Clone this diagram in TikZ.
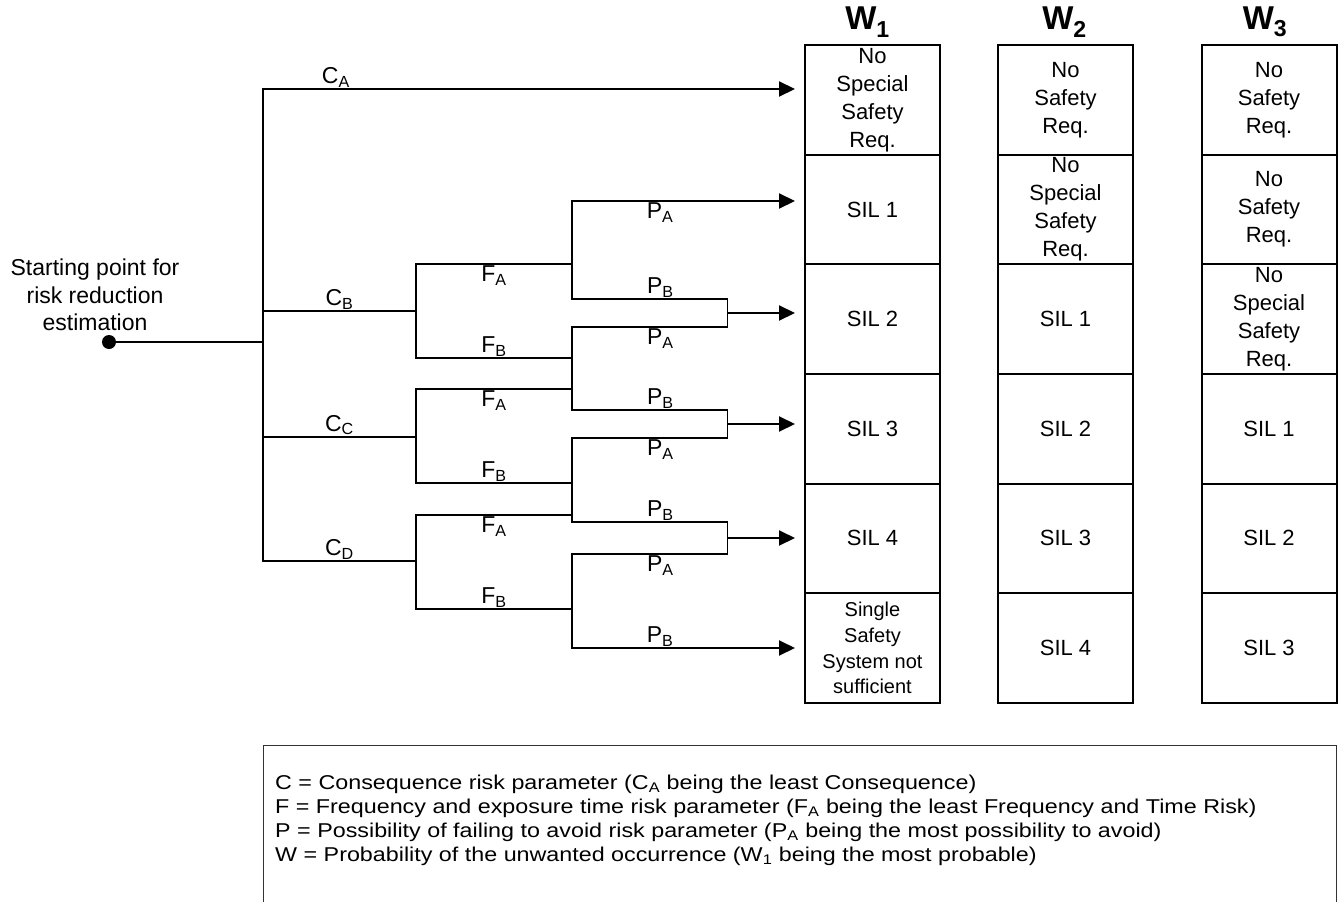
\documentclass[tikz,border=0pt]{standalone}
\usepackage{fontspec}
\setmainfont{Liberation Sans}
\usetikzlibrary{positioning,arrows.meta}
\tikzset{%
  ptr/.style={%
    -{Triangle[length=16pt,width=15pt]},
    line width=2pt
  },
  br/.style={line width=2pt, line cap=rect},
  cell/.style={draw, line width=2pt, minimum width=135pt, minimum height=109.6pt,
    inner sep=0pt, align=center, font=\fontsize{22}{28}\selectfont},
  lbl/.style={inner sep=1pt, font=\fontsize{23}{27.5}\selectfont},
  whead/.style={inner sep=0pt, font=\bfseries\fontsize{33}{35}\selectfont}
}

\begin{document}
\begin{tikzpicture}[x=1pt,y=-1pt]
  \useasboundingbox (0,0) rectangle (1338,902);

  % W columns
  \foreach \txt [count=\r from 0] in {{No\\Special\\Safety\\Req.},SIL 1,SIL 2,SIL 3,SIL 4}
    \node[cell] (a\r) at (872.5,{100+109.6*\r}) {\txt};
  \node[cell, font=\fontsize{20}{25.7}\selectfont] (a5) at (872.5,648) {Single\\Safety\\System not\\sufficient};
  \foreach \txt [count=\r from 0] in {{No\\Safety\\Req.},{No\\Special\\Safety\\Req.},SIL 1,SIL 2,SIL 3,SIL 4}
    \node[cell] (b\r) at (1065.5,{100+109.6*\r}) {\txt};
  \foreach \txt [count=\r from 0] in {{No\\Safety\\Req.},{No\\Safety\\Req.},{No\\Special\\Safety\\Req.},SIL 1,SIL 2,SIL 3}
    \node[cell] (c\r) at (1269,{100+109.6*\r}) {\txt};

  \node[whead, above=7pt of a0, xshift=-5pt] (w1) {W\textsubscript{1}};
  \node[whead, above=7pt of b0, xshift=-1pt] (w2) {W\textsubscript{2}};
  \node[whead, above=7pt of c0, xshift=-4pt] (w3) {W\textsubscript{3}};

  % start
  \node[circle, fill, inner sep=0pt, minimum size=14pt] (st) at (109,342) {};
  \node[lbl, align=center] (stl) at (95,295) {Starting point for\\risk reduction\\estimation};

  \coordinate (s) at (263,342);
  \coordinate (cA) at (263,89);
  \coordinate (cB) at (263,311);
  \coordinate (cC) at (263,437);
  \coordinate (cD) at (263,561);
  \coordinate (tip) at (795,0);
  \coordinate (mx) at (727,0);
  \coordinate (fB) at (416,311);
  \coordinate (fBa) at (416,264);
  \coordinate (fBb) at (416,358);
  \coordinate (fC) at (416,437);
  \coordinate (fCa) at (416,389);
  \coordinate (fCb) at (416,483);
  \coordinate (fD) at (416,561);
  \coordinate (fDa) at (416,515);
  \coordinate (fDb) at (416,609);
  \foreach \y [count=\i] in {201,299,327,410,438,522,554,648}
    \coordinate (p\i) at (572,\y);
  \coordinate (q1) at (727,313);
  \coordinate (q2) at (727,424);
  \coordinate (q3) at (727,538);

  % C branches
  \draw[br] (st) -- (s);
  \draw[br] (cA) -- (cD);
  \draw[ptr] (cA) -- node[lbl, above, pos=0.137] {C\textsubscript{A}} (cA -| tip);
  \draw[br] (cB) -- node[lbl, above] {C\textsubscript{B}} (fB);
  \draw[br] (cC) -- node[lbl, above] {C\textsubscript{C}} (fC);
  \draw[br] (cD) -- node[lbl, above] {C\textsubscript{D}} (fD);

  % F branches
  \draw[br] (fBa) -- (fBb) (fCa) -- (fCb) (fDa) -- (fDb);
  \draw[br] (fBa) -- node[lbl, below] {F\textsubscript{A}} (fBa -| p1);
  \draw[br] (fBb) -- node[lbl, above] {F\textsubscript{B}} (fBb -| p1);
  \draw[br] (fCa) -- node[lbl, below] {F\textsubscript{A}} (fCa -| p1);
  \draw[br] (fCb) -- node[lbl, above] {F\textsubscript{B}} (fCb -| p1);
  \draw[br] (fDa) -- node[lbl, below] {F\textsubscript{A}} (fDa -| p1);
  \draw[br] (fDb) -- node[lbl, above] {F\textsubscript{B}} (fDb -| p1);

  % P branches
  \draw[br] (p1) -- (p2) (p3) -- (p4) (p5) -- (p6) (p7) -- (p8);
  \draw[ptr] (p1) -- node[lbl, below, pos=0.395] {P\textsubscript{A}} (p1 -| tip);
  \draw[br] (p2) -- node[lbl, above, pos=0.57] {P\textsubscript{B}} (p2 -| mx);
  \draw[br] (p3) -- node[lbl, below, pos=0.57] {P\textsubscript{A}} (p3 -| mx);
  \draw[br] (p4) -- node[lbl, above, pos=0.57] {P\textsubscript{B}} (p4 -| mx);
  \draw[br] (p5) -- node[lbl, below, pos=0.57] {P\textsubscript{A}} (p5 -| mx);
  \draw[br] (p6) -- node[lbl, above, pos=0.57] {P\textsubscript{B}} (p6 -| mx);
  \draw[br] (p7) -- node[lbl, below, pos=0.57] {P\textsubscript{A}} (p7 -| mx);
  \draw[ptr] (p8) -- node[lbl, above, pos=0.395] {P\textsubscript{B}} (p8 -| tip);
  \draw[line width=1pt] (p2 -| mx) -- (p3 -| mx) (p4 -| mx) -- (p5 -| mx) (p6 -| mx) -- (p7 -| mx);
  \draw[ptr] (q1) -- (q1 -| tip);
  \draw[ptr] (q2) -- (q2 -| tip);
  \draw[ptr] (q3) -- (q3 -| tip);

  % legend
  \draw[line width=1pt, black!80] (263,902) |- (1336,745) -- (1336,902);
  \node[anchor=north west, inner sep=0pt] (key) at (275,772)
    {\fontsize{20}{24}\selectfont\scalebox{1.165}[1]{\begin{tabular}{@{}l@{}}
     C = Consequence risk parameter (C\textsubscript{A} being the least Consequence)\\
     F = Frequency and exposure time risk parameter (F\textsubscript{A} being the least Frequency and Time Risk)\\
     P = Possibility of failing to avoid risk parameter (P\textsubscript{A} being the most possibility to avoid)\\
     W = Probability of the unwanted occurrence (W\textsubscript{1} being the most probable)
     \end{tabular}}};
\end{tikzpicture}
\end{document}
